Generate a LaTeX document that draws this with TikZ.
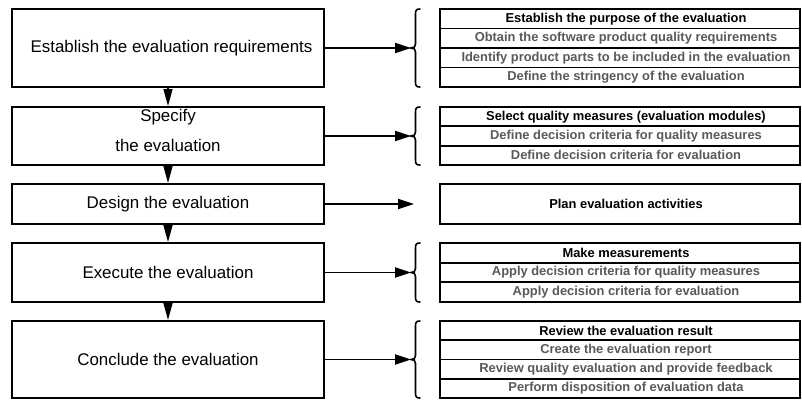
\documentclass[tikz,border=0pt]{standalone}
\usepackage{fontspec}
\setmainfont{Liberation Sans}
\usetikzlibrary{arrows.meta}
\definecolor{rowgray}{HTML}{595959}
\newcommand\mybrace[2]{%
  \draw[bracestyle] (420,#1) .. controls (416.5,#1) and (415.5,{#1+1}) .. (415.5,{#1+5})
    -- (415.5,{(#1+#2)/2-4}) .. controls (415.5,{(#1+#2)/2-1}) and (414,{(#1+#2)/2}) .. (411,{(#1+#2)/2})
    .. controls (414,{(#1+#2)/2}) and (415.5,{(#1+#2)/2+1}) .. (415.5,{(#1+#2)/2+4})
    -- (415.5,{#2-5}) .. controls (415.5,{#2-1}) and (416.5,#2) .. (420,#2);}
\newcommand\rowtext[1]{\hspace*{12pt}#1}
\begin{document}
\begin{tikzpicture}[x=1pt,y=-1pt,
  stagebox/.style={draw, line width=2pt, minimum width=312pt, minimum height=#1, inner sep=0pt,
    font=\fontsize{16.9}{20}\selectfont},
  stagetext/.style={align=center, inner sep=0pt, font=\fontsize{16.9}{30}\selectfont},
  row/.style={draw, line width=1.7pt, minimum width=360pt, minimum height=#1, inner sep=0pt,
    font=\fontsize{12.9}{14}\selectfont\bfseries, text=rowgray},
  headrow/.style={row=#1, text=black},
  bracestyle/.style={line width=1.6pt, line cap=round},
  conn/.style={line width=1.8pt, -{Triangle[length=16pt,width=10pt]}},
  down/.style={line width=1.5pt, -{Triangle[length=17pt,width=9pt]}}]
\useasboundingbox (0,0) rectangle (802,400);

% left stages
\node[stagebox=78pt] (b1) at (168,48) {\hspace*{7pt}Establish the evaluation requirements};
\node[stagebox=58pt] (b2) at (168,136) {};
\node[stagetext] (s2) at (168,130) {Specify\\the evaluation};
\node[stagebox=40pt] (b3) at (168,204) {Design the evaluation};
\node[stagebox=59pt] (b4) at (168,272.5) {Execute the evaluation};
\node[stagebox=77pt] (b5) at (168,359.5) {Conclude the evaluation};

\draw[down] (b1.south) -- (b2.north);
\draw[down] (b2.south) -- (b3.north);
\draw[down] (b3.south) -- (b4.north);
\draw[down] (b4.south) -- (b5.north);

% table 1
\node[headrow=19.5pt] (t1a) at (620,18.75) {\rowtext{Establish the purpose of the evaluation}};
\node[row=19.5pt] (t1b) at (620,38.25) {\rowtext{Obtain the software product quality requirements}};
\node[row=19.5pt] (t1c) at (620,57.75) {\rowtext{Identify product parts to be included in the evaluation}};
\node[row=19.5pt] (t1d) at (620,77.25) {\rowtext{Define the stringency of the evaluation}};

% table 2
\node[headrow=19.33pt] (t2a) at (620,116.67) {\rowtext{Select quality measures (evaluation modules)}};
\node[row=19.33pt] (t2b) at (620,136) {\rowtext{Define decision criteria for quality measures}};
\node[row=19.33pt] (t2c) at (620,155.33) {\rowtext{Define decision criteria for evaluation}};

% table 3
\node[headrow=40pt] (t3a) at (620,204) {\rowtext{Plan evaluation activities}};

% table 4
\node[headrow=19.67pt] (t4a) at (620,252.83) {\rowtext{Make measurements}};
\node[row=19.67pt] (t4b) at (620,272.5) {\rowtext{Apply decision criteria for quality measures}};
\node[row=19.67pt] (t4c) at (620,292.17) {\rowtext{Apply decision criteria for evaluation}};

% table 5
\node[headrow=19.25pt] (t5a) at (620,330.63) {\rowtext{Review the evaluation result}};
\node[row=19.25pt] (t5b) at (620,349.88) {\rowtext{Create the evaluation report}};
\node[row=19.25pt] (t5c) at (620,369.13) {\rowtext{Review quality evaluation and provide feedback}};
\node[row=19.25pt] (t5d) at (620,388.38) {\rowtext{Perform disposition of evaluation data}};

% braces
\mybrace{9}{87}
\mybrace{107}{165}
\mybrace{243}{302}
\mybrace{321}{398}

\coordinate (c1) at (411,48);
\coordinate (c2) at (411,136);
\coordinate (c3) at (414,204);
\coordinate (c4) at (411,272.5);
\coordinate (c5) at (411,359.5);

\draw[conn] (b1.east) -- (c1);
\draw[conn] (b2.east) -- (c2);
\draw[conn] (b3.east) -- (c3);
\draw[conn] (b4.east) -- (c4);
\draw[conn] (b5.east) -- (c5);
\end{tikzpicture}
\end{document}
